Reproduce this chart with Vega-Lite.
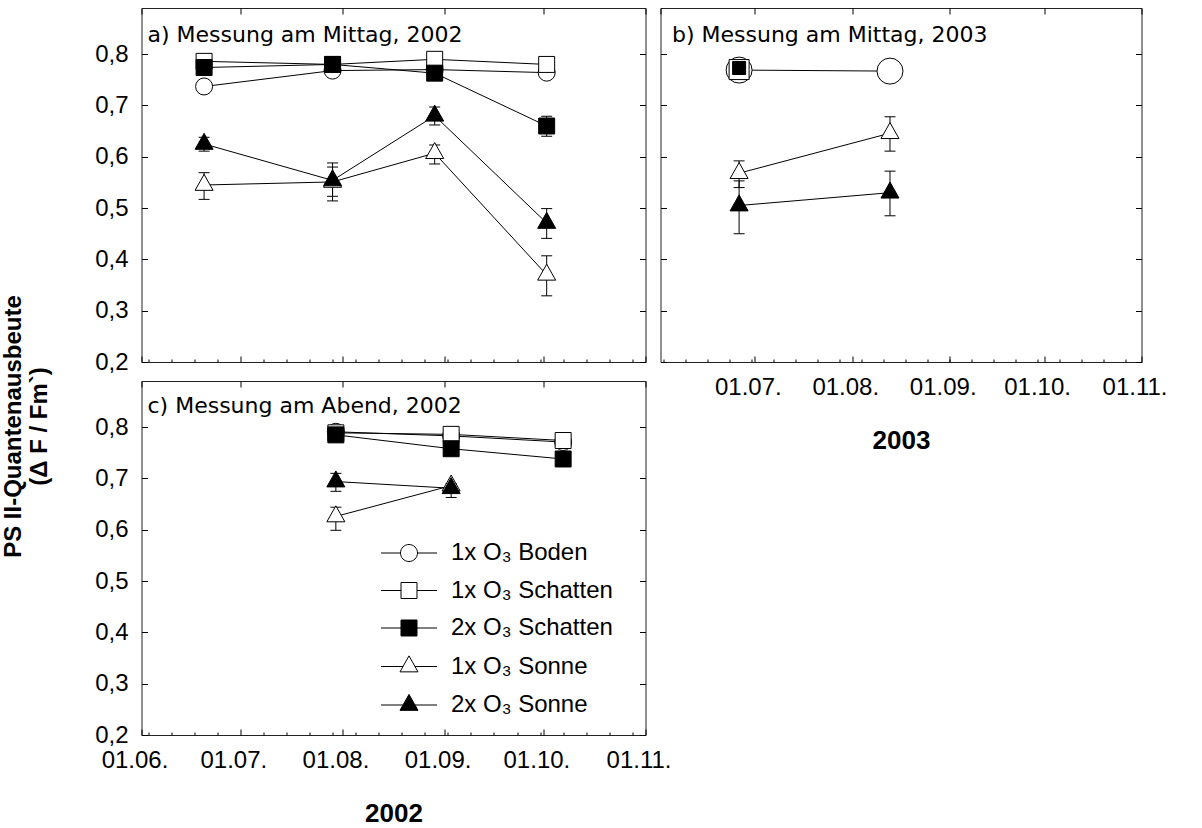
{
  "$schema": "https://vega.github.io/schema/vega-lite/v6.json",
  "background": "white",
  "padding": {"left": 0.5, "top": 7, "right": 5, "bottom": 3},
  "data": {"values": [
    {"panel":"a","series":"1x O₃ Boden","date":"2002-06-20T00:00:00","value":0.737},
    {"panel":"a","series":"1x O₃ Boden","date":"2002-07-29T00:00:00","value":0.768},
    {"panel":"a","series":"1x O₃ Boden","date":"2002-08-29T00:00:00","value":0.770},
    {"panel":"a","series":"1x O₃ Boden","date":"2002-10-02T00:00:00","value":0.764},
    {"panel":"a","series":"1x O₃ Schatten","date":"2002-06-20T00:00:00","value":0.786},
    {"panel":"a","series":"1x O₃ Schatten","date":"2002-07-29T00:00:00","value":0.780},
    {"panel":"a","series":"1x O₃ Schatten","date":"2002-08-29T00:00:00","value":0.790},
    {"panel":"a","series":"1x O₃ Schatten","date":"2002-10-02T00:00:00","value":0.780},
    {"panel":"a","series":"2x O₃ Schatten","date":"2002-06-20T00:00:00","value":0.774},
    {"panel":"a","series":"2x O₃ Schatten","date":"2002-07-29T00:00:00","value":0.780},
    {"panel":"a","series":"2x O₃ Schatten","date":"2002-08-29T00:00:00","value":0.763},
    {"panel":"a","series":"2x O₃ Schatten","date":"2002-10-02T00:00:00","value":0.660,"lo":0.640,"hi":0.679},
    {"panel":"a","series":"1x O₃ Sonne","date":"2002-06-20T00:00:00","value":0.545,"lo":0.517,"hi":0.569},
    {"panel":"a","series":"1x O₃ Sonne","date":"2002-07-29T00:00:00","value":0.551,"lo":0.523,"hi":0.580},
    {"panel":"a","series":"1x O₃ Sonne","date":"2002-08-29T00:00:00","value":0.607,"lo":0.586,"hi":0.623},
    {"panel":"a","series":"1x O₃ Sonne","date":"2002-10-02T00:00:00","value":0.370,"lo":0.329,"hi":0.407},
    {"panel":"a","series":"2x O₃ Sonne","date":"2002-06-20T00:00:00","value":0.625,"lo":0.611,"hi":0.638},
    {"panel":"a","series":"2x O₃ Sonne","date":"2002-07-29T00:00:00","value":0.554,"lo":0.514,"hi":0.588},
    {"panel":"a","series":"2x O₃ Sonne","date":"2002-08-29T00:00:00","value":0.680,"lo":0.662,"hi":0.697},
    {"panel":"a","series":"2x O₃ Sonne","date":"2002-10-02T00:00:00","value":0.471,"lo":0.441,"hi":0.499},
    {"panel":"b","series":"1x O₃ Boden","date":"2003-06-26T00:00:00","value":0.769},
    {"panel":"b","series":"1x O₃ Boden","date":"2003-08-13T00:00:00","value":0.767},
    {"panel":"b","series":"1x O₃ Schatten","date":"2003-06-26T00:00:00","value":0.770},
    {"panel":"b","series":"2x O₃ Schatten","date":"2003-06-26T00:00:00","value":0.773},
    {"panel":"b","series":"1x O₃ Sonne","date":"2003-06-26T00:00:00","value":0.568,"lo":0.540,"hi":0.592},
    {"panel":"b","series":"1x O₃ Sonne","date":"2003-08-13T00:00:00","value":0.646,"lo":0.611,"hi":0.678},
    {"panel":"b","series":"2x O₃ Sonne","date":"2003-06-26T00:00:00","value":0.505,"lo":0.450,"hi":0.553},
    {"panel":"b","series":"2x O₃ Sonne","date":"2003-08-13T00:00:00","value":0.530,"lo":0.485,"hi":0.572},
    {"panel":"c","series":"1x O₃ Boden","date":"2002-07-30T00:00:00","value":0.791},
    {"panel":"c","series":"1x O₃ Boden","date":"2002-09-03T00:00:00","value":0.783},
    {"panel":"c","series":"1x O₃ Boden","date":"2002-10-07T00:00:00","value":0.771},
    {"panel":"c","series":"1x O₃ Schatten","date":"2002-07-30T00:00:00","value":0.789},
    {"panel":"c","series":"1x O₃ Schatten","date":"2002-09-03T00:00:00","value":0.786},
    {"panel":"c","series":"1x O₃ Schatten","date":"2002-10-07T00:00:00","value":0.774},
    {"panel":"c","series":"2x O₃ Schatten","date":"2002-07-30T00:00:00","value":0.785},
    {"panel":"c","series":"2x O₃ Schatten","date":"2002-09-03T00:00:00","value":0.758},
    {"panel":"c","series":"2x O₃ Schatten","date":"2002-10-07T00:00:00","value":0.738},
    {"panel":"c","series":"1x O₃ Sonne","date":"2002-07-30T00:00:00","value":0.626,"lo":0.599,"hi":0.644},
    {"panel":"c","series":"1x O₃ Sonne","date":"2002-09-03T00:00:00","value":0.686},
    {"panel":"c","series":"2x O₃ Sonne","date":"2002-07-30T00:00:00","value":0.694,"lo":0.675,"hi":0.710},
    {"panel":"c","series":"2x O₃ Sonne","date":"2002-09-03T00:00:00","value":0.681,"lo":0.663,"hi":0.690}
  ]},
  "columns": 2,
  "spacing": {"row": 19, "column": 15},
  "bounds": "flush",
  "concat": [
    {
      "width": 504, "height": 354,
      "transform": [{"filter": "datum.panel == 'a'"}],
      "layer": [
        {"mark": {"type": "line", "color": "black", "strokeWidth": 1},
         "encoding": {
           "x": {"field": "date", "type": "temporal", "scale": {"domain": [{"year":2002,"month":6,"date":1},{"year":2002,"month":11,"date":1}], "nice": false},
                 "axis": {"orient": "bottom", "values": [{"year":2002,"month":6,"date":1},{"year":2002,"month":7,"date":1},{"year":2002,"month":8,"date":1},{"year":2002,"month":9,"date":1},{"year":2002,"month":10,"date":1},{"year":2002,"month":11,"date":1}], "labels": false, "tickSize": -6, "title": null}},
           "y": {"field": "value", "type": "quantitative", "scale": {"domain": [0.2, 0.89], "nice": false, "zero": false},
                 "axis": {"orient": "left", "values": [0.2,0.3,0.4,0.5,0.6,0.7,0.8], "labelExpr": "replace(format(datum.value, '.1f'), '.', ',')", "tickSize": -6, "labelPadding": 19.5, "title": null}},
           "detail": {"field": "series", "type": "nominal"}
         }},
        {"transform": [{"filter": "datum.lo != null"}],
         "mark": {"type": "rule", "color": "black", "strokeWidth": 1},
         "encoding": {
           "x": {"field": "date", "type": "temporal",
                 "axis": {"orient": "top", "values": [{"year":2002,"month":6,"date":1},{"year":2002,"month":7,"date":1},{"year":2002,"month":8,"date":1},{"year":2002,"month":9,"date":1},{"year":2002,"month":10,"date":1},{"year":2002,"month":11,"date":1}], "labels": false, "tickSize": -6,
                          "title": "a) Messung am Mittag, 2002", "titleX": 5.5, "titleY": 33, "titleAlign": "left", "titleBaseline": "alphabetic", "titleAngle": 0, "titleFontWeight": "normal", "titleFont": "DejaVu Sans", "titleFontSize": 22}},
           "y": {"field": "lo", "type": "quantitative",
                 "axis": {"orient": "right", "values": [0.2,0.3,0.4,0.5,0.6,0.7,0.8], "labels": false, "tickSize": -6, "title": null}},
           "y2": {"field": "hi"}
         }},
        {"transform": [{"filter": "datum.lo != null"}],
         "mark": {"type": "tick", "orient": "horizontal", "size": 11, "thickness": 1, "color": "black", "opacity": 1},
         "encoding": {
           "x": {"field": "date", "type": "temporal",
                 "axis": {"orient": "bottom", "values": [{"year":2002,"month":6,"date":3},{"year":2002,"month":6,"date":10},{"year":2002,"month":6,"date":17},{"year":2002,"month":6,"date":24},{"year":2002,"month":7,"date":8},{"year":2002,"month":7,"date":15},{"year":2002,"month":7,"date":22},{"year":2002,"month":7,"date":29},{"year":2002,"month":8,"date":5},{"year":2002,"month":8,"date":12},{"year":2002,"month":8,"date":19},{"year":2002,"month":8,"date":26},{"year":2002,"month":9,"date":2},{"year":2002,"month":9,"date":9},{"year":2002,"month":9,"date":16},{"year":2002,"month":9,"date":23},{"year":2002,"month":9,"date":30},{"year":2002,"month":10,"date":7},{"year":2002,"month":10,"date":14},{"year":2002,"month":10,"date":21},{"year":2002,"month":10,"date":28}], "labels": false, "tickSize": -3, "title": null}},
           "y": {"field": "lo", "type": "quantitative", "axis": null}
         }},
        {"transform": [{"filter": "datum.lo != null"}],
         "mark": {"type": "tick", "orient": "horizontal", "size": 11, "thickness": 1, "color": "black", "opacity": 1},
         "encoding": {
           "x": {"field": "date", "type": "temporal", "axis": null},
           "y": {"field": "hi", "type": "quantitative", "axis": null}
         }},
        {"mark": {"type": "point", "filled": true, "stroke": "black", "strokeWidth": 1, "opacity": 1, "size": 289},
         "encoding": {
           "x": {"field": "date", "type": "temporal", "axis": null},
           "y": {"field": "value", "type": "quantitative", "axis": null},
           "shape": {"field": "series", "type": "nominal", "legend": null,
                     "scale": {"domain": ["1x O₃ Boden","1x O₃ Schatten","2x O₃ Schatten","1x O₃ Sonne","2x O₃ Sonne"],
                               "range": ["circle","M-0.94,-0.94H0.94V0.94H-0.94Z","M-0.94,-0.94H0.94V0.94H-0.94Z","M0,-1.25L1.06,0.63L-1.06,0.63Z","M0,-1.25L1.06,0.63L-1.06,0.63Z"]}},
           "fill": {"field": "series", "type": "nominal", "legend": null,
                    "scale": {"domain": ["1x O₃ Boden","1x O₃ Schatten","2x O₃ Schatten","1x O₃ Sonne","2x O₃ Sonne"], "range": ["white","white","black","white","black"]}},
           "order": {"field": "series", "sort": "ascending"}
         }}
      ],
      "resolve": {"axis": {"x": "independent", "y": "independent"}}
    },
    {
      "width": 481, "height": 354,
      "transform": [{"filter": "datum.panel == 'b'"}],
      "layer": [
        {"mark": {"type": "line", "color": "black", "strokeWidth": 1},
         "encoding": {
           "x": {"field": "date", "type": "temporal", "scale": {"domain": [{"year":2003,"month":6,"date":1},{"year":2003,"month":11,"date":1}], "nice": false},
                 "axis": {"orient": "bottom", "values": [{"year":2003,"month":7,"date":1},{"year":2003,"month":8,"date":1},{"year":2003,"month":9,"date":1},{"year":2003,"month":10,"date":1},{"year":2003,"month":11,"date":1}], "format": "%d.%m.", "tickSize": -6, "labelPadding": 19, "labelOffset": -7, "labelFlush": false, "labelOverlap": false, "labelBound": false, "title": "2003", "titleFontWeight": "bold", "titleFontSize": 26, "titlePadding": 28}},
           "y": {"field": "value", "type": "quantitative", "scale": {"domain": [0.2, 0.89], "nice": false, "zero": false},
                 "axis": {"orient": "left", "values": [0.2,0.3,0.4,0.5,0.6,0.7,0.8], "labels": false, "tickSize": -6, "title": null}},
           "detail": {"field": "series", "type": "nominal"}
         }},
        {"transform": [{"filter": "datum.lo != null"}],
         "mark": {"type": "rule", "color": "black", "strokeWidth": 1},
         "encoding": {
           "x": {"field": "date", "type": "temporal",
                 "axis": {"orient": "top", "values": [{"year":2003,"month":6,"date":1},{"year":2003,"month":7,"date":1},{"year":2003,"month":8,"date":1},{"year":2003,"month":9,"date":1},{"year":2003,"month":10,"date":1},{"year":2003,"month":11,"date":1}], "labels": false, "tickSize": -6,
                          "title": "b) Messung am Mittag, 2003", "titleX": 11, "titleY": 33, "titleAlign": "left", "titleBaseline": "alphabetic", "titleAngle": 0, "titleFontWeight": "normal", "titleFont": "DejaVu Sans", "titleFontSize": 22}},
           "y": {"field": "lo", "type": "quantitative",
                 "axis": {"orient": "right", "values": [0.2,0.3,0.4,0.5,0.6,0.7,0.8], "labels": false, "tickSize": -6, "title": null}},
           "y2": {"field": "hi"}
         }},
        {"transform": [{"filter": "datum.lo != null"}],
         "mark": {"type": "tick", "orient": "horizontal", "size": 11, "thickness": 1, "color": "black", "opacity": 1},
         "encoding": {
           "x": {"field": "date", "type": "temporal",
                 "axis": {"orient": "bottom", "values": [{"year":2003,"month":6,"date":2},{"year":2003,"month":6,"date":9},{"year":2003,"month":6,"date":16},{"year":2003,"month":6,"date":23},{"year":2003,"month":6,"date":30},{"year":2003,"month":7,"date":7},{"year":2003,"month":7,"date":14},{"year":2003,"month":7,"date":21},{"year":2003,"month":7,"date":28},{"year":2003,"month":8,"date":4},{"year":2003,"month":8,"date":11},{"year":2003,"month":8,"date":18},{"year":2003,"month":8,"date":25},{"year":2003,"month":9,"date":1},{"year":2003,"month":9,"date":8},{"year":2003,"month":9,"date":15},{"year":2003,"month":9,"date":22},{"year":2003,"month":9,"date":29},{"year":2003,"month":10,"date":6},{"year":2003,"month":10,"date":13},{"year":2003,"month":10,"date":20},{"year":2003,"month":10,"date":27}], "labels": false, "tickSize": -3, "title": null}},
           "y": {"field": "lo", "type": "quantitative", "axis": null}
         }},
        {"transform": [{"filter": "datum.lo != null"}],
         "mark": {"type": "tick", "orient": "horizontal", "size": 11, "thickness": 1, "color": "black", "opacity": 1},
         "encoding": {
           "x": {"field": "date", "type": "temporal", "axis": null},
           "y": {"field": "hi", "type": "quantitative", "axis": null}
         }},
        {"transform": [{"filter": "datum.series == '1x O₃ Boden'"}],
         "mark": {"type": "point", "shape": "circle", "filled": true, "fill": "white", "stroke": "black", "strokeWidth": 1, "opacity": 1, "size": 676},
         "encoding": {
           "x": {"field": "date", "type": "temporal", "axis": null},
           "y": {"field": "value", "type": "quantitative", "axis": null}
         }},
        {"transform": [{"filter": "datum.series == '1x O₃ Schatten'"}],
         "mark": {"type": "point", "shape": "square", "filled": true, "fill": "white", "stroke": "black", "strokeWidth": 1, "opacity": 1, "size": 400},
         "encoding": {
           "x": {"field": "date", "type": "temporal", "axis": null},
           "y": {"field": "value", "type": "quantitative", "axis": null}
         }},
        {"transform": [{"filter": "datum.series == '2x O₃ Schatten'"}],
         "mark": {"type": "point", "shape": "square", "filled": true, "fill": "black", "stroke": "black", "strokeWidth": 1, "opacity": 1, "size": 169},
         "encoding": {
           "x": {"field": "date", "type": "temporal", "axis": null},
           "y": {"field": "value", "type": "quantitative", "axis": null}
         }},
        {"transform": [{"filter": "indexof(datum.series, 'Sonne') >= 0"}],
         "mark": {"type": "point", "filled": true, "stroke": "black", "strokeWidth": 1, "opacity": 1, "size": 289},
         "encoding": {
           "x": {"field": "date", "type": "temporal", "axis": null},
           "y": {"field": "value", "type": "quantitative", "axis": null},
           "shape": {"field": "series", "type": "nominal", "legend": null,
                     "scale": {"domain": ["1x O₃ Boden","1x O₃ Schatten","2x O₃ Schatten","1x O₃ Sonne","2x O₃ Sonne"],
                               "range": ["circle","M-0.94,-0.94H0.94V0.94H-0.94Z","M-0.94,-0.94H0.94V0.94H-0.94Z","M0,-1.25L1.06,0.63L-1.06,0.63Z","M0,-1.25L1.06,0.63L-1.06,0.63Z"]}},
           "fill": {"field": "series", "type": "nominal", "legend": null,
                    "scale": {"domain": ["1x O₃ Boden","1x O₃ Schatten","2x O₃ Schatten","1x O₃ Sonne","2x O₃ Sonne"], "range": ["white","white","black","white","black"]}},
           "order": {"field": "series", "sort": "ascending"}
         }}
      ],
      "resolve": {"axis": {"x": "independent", "y": "independent"}}
    },
    {
      "width": 504, "height": 354,
      "transform": [{"filter": "datum.panel == 'c'"}],
      "layer": [
        {"mark": {"type": "line", "color": "black", "strokeWidth": 1},
         "encoding": {
           "x": {"field": "date", "type": "temporal", "scale": {"domain": [{"year":2002,"month":6,"date":1},{"year":2002,"month":11,"date":1}], "nice": false},
                 "axis": {"orient": "bottom", "values": [{"year":2002,"month":6,"date":1},{"year":2002,"month":7,"date":1},{"year":2002,"month":8,"date":1},{"year":2002,"month":9,"date":1},{"year":2002,"month":10,"date":1},{"year":2002,"month":11,"date":1}], "format": "%d.%m.", "tickSize": -6, "labelPadding": 19, "labelOffset": -7, "labelFlush": false, "labelOverlap": false, "labelBound": false, "title": "2002", "titleFontWeight": "bold", "titleFontSize": 26, "titlePadding": 28}},
           "y": {"field": "value", "type": "quantitative", "scale": {"domain": [0.2, 0.89], "nice": false, "zero": false},
                 "axis": {"orient": "left", "values": [0.2,0.3,0.4,0.5,0.6,0.7,0.8], "labelExpr": "replace(format(datum.value, '.1f'), '.', ',')", "tickSize": -6, "labelPadding": 19.5,
                          "title": ["PS II-Quantenausbeute", "(Δ F / Fm`)"], "titleFontWeight": "bold", "titleFontSize": 24, "titleAngle": 270, "titleX": -128, "titleY": 45, "titleAlign": "center", "titleBaseline": "middle", "titleLineHeight": 26}},
           "detail": {"field": "series", "type": "nominal"}
         }},
        {"transform": [{"filter": "datum.lo != null"}],
         "mark": {"type": "rule", "color": "black", "strokeWidth": 1},
         "encoding": {
           "x": {"field": "date", "type": "temporal",
                 "axis": {"orient": "top", "values": [{"year":2002,"month":6,"date":1},{"year":2002,"month":7,"date":1},{"year":2002,"month":8,"date":1},{"year":2002,"month":9,"date":1},{"year":2002,"month":10,"date":1},{"year":2002,"month":11,"date":1}], "labels": false, "tickSize": -6,
                          "title": "c) Messung am Abend, 2002", "titleX": 5.5, "titleY": 31, "titleAlign": "left", "titleBaseline": "alphabetic", "titleAngle": 0, "titleFontWeight": "normal", "titleFont": "DejaVu Sans", "titleFontSize": 22}},
           "y": {"field": "lo", "type": "quantitative",
                 "axis": {"orient": "right", "values": [0.2,0.3,0.4,0.5,0.6,0.7,0.8], "labels": false, "tickSize": -6, "title": null}},
           "y2": {"field": "hi"}
         }},
        {"transform": [{"filter": "datum.lo != null"}],
         "mark": {"type": "tick", "orient": "horizontal", "size": 11, "thickness": 1, "color": "black", "opacity": 1},
         "encoding": {
           "x": {"field": "date", "type": "temporal",
                 "axis": {"orient": "bottom", "values": [{"year":2002,"month":6,"date":3},{"year":2002,"month":6,"date":10},{"year":2002,"month":6,"date":17},{"year":2002,"month":6,"date":24},{"year":2002,"month":7,"date":8},{"year":2002,"month":7,"date":15},{"year":2002,"month":7,"date":22},{"year":2002,"month":7,"date":29},{"year":2002,"month":8,"date":5},{"year":2002,"month":8,"date":12},{"year":2002,"month":8,"date":19},{"year":2002,"month":8,"date":26},{"year":2002,"month":9,"date":2},{"year":2002,"month":9,"date":9},{"year":2002,"month":9,"date":16},{"year":2002,"month":9,"date":23},{"year":2002,"month":9,"date":30},{"year":2002,"month":10,"date":7},{"year":2002,"month":10,"date":14},{"year":2002,"month":10,"date":21},{"year":2002,"month":10,"date":28}], "labels": false, "tickSize": -3, "title": null}},
           "y": {"field": "lo", "type": "quantitative", "axis": null}
         }},
        {"transform": [{"filter": "datum.lo != null"}],
         "mark": {"type": "tick", "orient": "horizontal", "size": 11, "thickness": 1, "color": "black", "opacity": 1},
         "encoding": {
           "x": {"field": "date", "type": "temporal", "axis": null},
           "y": {"field": "hi", "type": "quantitative", "axis": null}
         }},
        {"mark": {"type": "point", "filled": true, "stroke": "black", "strokeWidth": 1, "opacity": 1, "size": 289},
         "encoding": {
           "x": {"field": "date", "type": "temporal", "axis": null},
           "y": {"field": "value", "type": "quantitative", "axis": null},
           "shape": {"field": "series", "type": "nominal", "legend": null,
                     "scale": {"domain": ["1x O₃ Boden","1x O₃ Schatten","2x O₃ Schatten","1x O₃ Sonne","2x O₃ Sonne"],
                               "range": ["circle","M-0.94,-0.94H0.94V0.94H-0.94Z","M-0.94,-0.94H0.94V0.94H-0.94Z","M0,-1.25L1.06,0.63L-1.06,0.63Z","M0,-1.25L1.06,0.63L-1.06,0.63Z"]}},
           "fill": {"field": "series", "type": "nominal", "legend": null,
                    "scale": {"domain": ["1x O₃ Boden","1x O₃ Schatten","2x O₃ Schatten","1x O₃ Sonne","2x O₃ Sonne"], "range": ["white","white","black","white","black"]}},
           "order": {"field": "series", "sort": "ascending"}
         }},
        {"transform": [{"filter": "false"}],
         "mark": {"type": "point", "filled": true, "stroke": "black", "strokeWidth": 1, "opacity": 1, "size": 289},
         "encoding": {
           "x": {"field": "date", "type": "temporal", "axis": null},
           "y": {"field": "value", "type": "quantitative", "axis": null},
           "shape": {"field": "series", "type": "nominal",
                     "scale": {"domain": ["1x O₃ Boden","1x O₃ Schatten","2x O₃ Schatten","1x O₃ Sonne","2x O₃ Sonne"],
                               "range": ["M-3.3,0H-1M1,0H3.3M1,0A1,1,0,1,1,-1,0A1,1,0,1,1,1,0Z","M-3.3,0H-0.94M0.94,0H3.3M-0.94,-0.94H0.94V0.94H-0.94Z","M-3.3,0H-0.94M0.94,0H3.3M-0.94,-0.94H0.94V0.94H-0.94Z","M-3.3,0H-0.7M0.7,0H3.3M0,-1.25L1.06,0.63L-1.06,0.63Z","M-3.3,0H-0.7M0.7,0H3.3M0,-1.25L1.06,0.63L-1.06,0.63Z"]},
                     "legend": {"title": null, "orient": "none", "legendX": 255.5, "legendY": 160, "labelOffset": 30, "symbolStrokeColor": "black", "symbolStrokeWidth": 1,
                                "encode": {"symbols": {"stroke": {"value": "black"}, "strokeWidth": {"value": 1}}}}},
           "fill": {"field": "series", "type": "nominal",
                    "scale": {"domain": ["1x O₃ Boden","1x O₃ Schatten","2x O₃ Schatten","1x O₃ Sonne","2x O₃ Sonne"], "range": ["white","white","black","white","black"]},
                    "legend": {"title": null, "orient": "none", "legendX": 255.5, "legendY": 160, "labelOffset": 30, "symbolStrokeColor": "black", "symbolStrokeWidth": 1,
                               "encode": {"symbols": {"stroke": {"value": "black"}, "strokeWidth": {"value": 1}}}}},
           "stroke": {"field": "series", "type": "nominal",
                      "scale": {"domain": ["1x O₃ Boden","1x O₃ Schatten","2x O₃ Schatten","1x O₃ Sonne","2x O₃ Sonne"], "range": ["black","black","black","black","black"]},
                      "legend": {"title": null, "orient": "none", "legendX": 255.5, "legendY": 160, "labelOffset": 30, "symbolStrokeColor": "black", "symbolStrokeWidth": 1,
                                 "encode": {"symbols": {"stroke": {"value": "black"}, "strokeWidth": {"value": 1}}}}}
         }}
      ],
      "resolve": {"axis": {"x": "independent", "y": "independent"}, "scale": {"shape": "independent", "fill": "independent", "stroke": "independent"}}
    }
  ],
  "config": {
    "font": "Liberation Sans",
    "view": {"stroke": "#222222", "strokeWidth": 1},
    "axis": {"domain": false, "grid": false, "tickColor": "black", "tickWidth": 1, "labelColor": "black", "titleColor": "black", "labelFont": "Liberation Sans", "titleFont": "Liberation Sans", "labelFontSize": 24, "titleFontSize": 24},
    "legend": {"labelFont": "Liberation Sans", "labelFontSize": 24, "labelColor": "black", "rowPadding": 13.5, "padding": 0, "symbolSize": 289, "labelLimit": 0}
  }
}
